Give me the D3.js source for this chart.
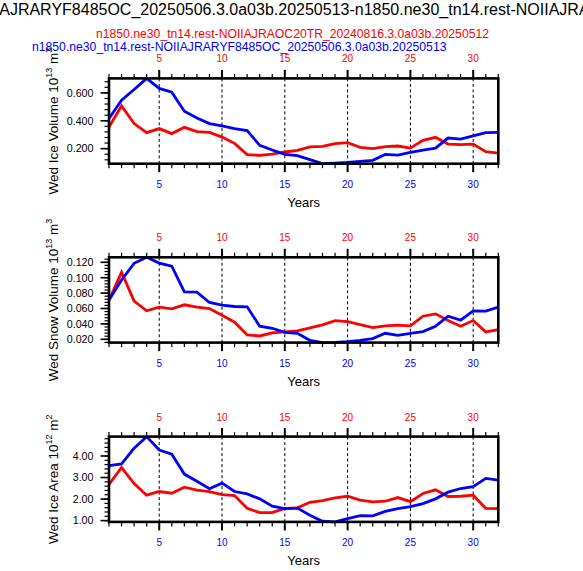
<!DOCTYPE html>
<html>
<head>
<meta charset="utf-8">
<script src="https://cdn.jsdelivr.net/npm/d3@7"></script>
<style>
  body { margin: 0; background: #fff; }
  text { font-family: "Liberation Sans", Arial, Helvetica, sans-serif; }
</style>
</head>
<body>
<div id="graph"></div>
<script>
"use strict";

const mainTitle = "n1850.ne30_tn14.rest-NOIIAJRARYF8485OC_20250506.3.0a03b.20250513-n1850.ne30_tn14.rest-NOIIAJRAOC20TR_20240816.3.0a03b.20250512";
const redCase = "n1850.ne30_tn14.rest-NOIIAJRAOC20TR_20240816.3.0a03b.20250512";
const blueCase = "n1850.ne30_tn14.rest-NOIIAJRARYF8485OC_20250506.3.0a03b.20250513";

const years = [1, 2, 3, 4, 5, 6, 7, 8, 9, 10, 11, 12, 13, 14, 15, 16,
  17, 18, 19, 20, 21, 22, 23, 24, 25, 26, 27, 28, 29, 30, 31, 32];
const xTicks = [5, 10, 15, 20, 25, 30];

// Wed ice volume (10^13 m^3)
const iceVolBlue = [0.416, 0.547, 0.624, 0.704, 0.632, 0.605, 0.468, 0.42, 0.38, 0.363, 0.344, 0.33, 0.224, 0.19, 0.159, 0.15,
  0.121, 0.092, 0.096, 0.101, 0.109, 0.116, 0.159, 0.154, 0.173, 0.19, 0.204, 0.276, 0.269, 0.291, 0.315, 0.317];
const iceVolRed = [0.355, 0.507, 0.38, 0.315, 0.344, 0.308, 0.353, 0.322, 0.317, 0.283, 0.238, 0.157, 0.152, 0.161, 0.176, 0.187,
  0.212, 0.217, 0.236, 0.243, 0.209, 0.2, 0.214, 0.219, 0.204, 0.26, 0.281, 0.233, 0.229, 0.233, 0.178, 0.168];
const iceVolTicks = [0.2, 0.4, 0.6];

// Wed snow volume (10^13 m^3)
const snowVolBlue = [0.071, 0.097, 0.1187, 0.1265, 0.119, 0.115, 0.0817, 0.0813, 0.0678, 0.0643, 0.0626, 0.0622, 0.037, 0.0343, 0.0291, 0.0278,
  0.0187, 0.0157, 0.016, 0.017, 0.0187, 0.0209, 0.0278, 0.0252, 0.0278, 0.03, 0.037, 0.05, 0.0448, 0.057, 0.0565, 0.0617];
const snowVolRed = [0.071, 0.107, 0.0696, 0.057, 0.0617, 0.0596, 0.0648, 0.0617, 0.06, 0.0513, 0.0422, 0.0257, 0.0243, 0.0283, 0.0296, 0.031,
  0.0348, 0.0387, 0.0443, 0.043, 0.0391, 0.0352, 0.0374, 0.0383, 0.0374, 0.05, 0.053, 0.0443, 0.037, 0.0443, 0.0296, 0.0326];
const snowVolTicks = [0.02, 0.04, 0.06, 0.08, 0.1, 0.12];

// Wed ice area (10^12 m^2)
const iceAreaBlue = [3.55, 3.63, 4.36, 4.9, 4.28, 4.08, 3.16, 2.83, 2.48, 2.74, 2.35, 2.24, 2.01, 1.67, 1.56, 1.58,
  1.25, 0.97, 0.94, 1.09, 1.23, 1.22, 1.43, 1.56, 1.65, 1.79, 2.01, 2.32, 2.49, 2.58, 2.96, 2.88];
const iceAreaRed = [2.68, 3.46, 2.72, 2.18, 2.35, 2.27, 2.55, 2.41, 2.35, 2.21, 2.16, 1.57, 1.37, 1.37, 1.57, 1.59,
  1.85, 1.93, 2.06, 2.13, 1.95, 1.87, 1.9, 2.07, 1.88, 2.26, 2.43, 2.12, 2.13, 2.18, 1.57, 1.56];
const iceAreaTicks = [1, 2, 3, 4];

const panels = [
  { label: "Wed Ice Volume 10", exp: "13", unit: "3", blue: iceVolBlue, red: iceVolRed, ticks: iceVolTicks, fmt: ".3f" },
  { label: "Wed Snow Volume 10", exp: "13", unit: "3", blue: snowVolBlue, red: snowVolRed, ticks: snowVolTicks, fmt: ".3f" },
  { label: "Wed Ice Area 10", exp: "12", unit: "2", blue: iceAreaBlue, red: iceAreaRed, ticks: iceAreaTicks, fmt: ".2f" },
];

// Layout
const w = 583;
const h = 571;
const left = 109;
const right = 498.3;
const panelH = 85.3;
const panelTops = [78.4, 257.3, 436.6];
const majorLen = 8.5;
const minorLen = 4.5;

const svg = d3.select("#graph").append("svg").attr("width", w).attr("height", h);

const x = d3.scaleLinear().domain([1, 32]).range([left, right]);

// Titles (main one is wider than the page, as in the original)
svg.append("text")
  .attr("x", 338)
  .attr("y", 15)
  .attr("text-anchor", "middle")
  .attr("font-size", 16)
  .text(mainTitle);

svg.append("text")
  .attr("x", 489)
  .attr("y", 38.3)
  .attr("text-anchor", "end")
  .attr("font-size", 12.2)
  .attr("fill", "red")
  .text(redCase);

svg.append("text")
  .attr("x", 32)
  .attr("y", 50.7)
  .attr("font-size", 12.2)
  .attr("fill", "blue")
  .text(blueCase);

panels.forEach((p, i) => {
  const top = panelTops[i];
  const bottom = top + panelH;
  const g = svg.append("g");

  const [lo, hi] = d3.extent(p.blue.concat(p.red));
  const y = d3.scaleLinear().domain([lo, hi]).range([bottom, top]);

  // dashed year grid
  g.selectAll("line.grid")
    .data(xTicks)
    .enter()
    .append("line")
    .attr("x1", (d) => x(d))
    .attr("x2", (d) => x(d))
    .attr("y1", top)
    .attr("y2", bottom)
    .attr("stroke", "#000")
    .attr("stroke-width", 1)
    .attr("stroke-dasharray", "3,2.5");

  // x ticks, top and bottom
  const minorX = years.filter((d) => d % 5 !== 0);
  [[bottom, 1], [top, -1]].forEach(([yy, dir]) => {
    g.selectAll(null)
      .data(minorX)
      .enter()
      .append("line")
      .attr("x1", (d) => x(d))
      .attr("x2", (d) => x(d))
      .attr("y1", yy)
      .attr("y2", yy + dir * minorLen)
      .attr("stroke", "#000")
      .attr("stroke-width", 1.2);
    g.selectAll(null)
      .data(xTicks)
      .enter()
      .append("line")
      .attr("x1", (d) => x(d))
      .attr("x2", (d) => x(d))
      .attr("y1", yy)
      .attr("y2", yy + dir * majorLen)
      .attr("stroke", "#000")
      .attr("stroke-width", 2);
  });

  g.selectAll(null)
    .data(xTicks)
    .enter()
    .append("text")
    .attr("x", (d) => x(d))
    .attr("y", bottom + 24)
    .attr("text-anchor", "middle")
    .attr("font-size", 10)
    .attr("fill", "blue")
    .text((d) => d);

  g.selectAll(null)
    .data(xTicks)
    .enter()
    .append("text")
    .attr("x", (d) => x(d))
    .attr("y", top - 16)
    .attr("text-anchor", "middle")
    .attr("font-size", 10)
    .attr("fill", "red")
    .text((d) => d);

  g.append("text")
    .attr("x", (left + right) / 2)
    .attr("y", bottom + 43.5)
    .attr("text-anchor", "middle")
    .attr("font-size", 13)
    .text("Years");

  // y ticks (4 minor per major interval)
  const step = p.ticks[1] - p.ticks[0];
  const minorStep = step / 5;
  const minorY = d3.range(Math.ceil(lo / minorStep), Math.floor(hi / minorStep) + 1)
    .map((k) => k * minorStep);

  g.selectAll(null)
    .data(minorY)
    .enter()
    .append("line")
    .attr("x1", left)
    .attr("x2", left - minorLen)
    .attr("y1", (d) => y(d))
    .attr("y2", (d) => y(d))
    .attr("stroke", "#000")
    .attr("stroke-width", 1.2);

  g.selectAll(null)
    .data(p.ticks)
    .enter()
    .append("line")
    .attr("x1", left)
    .attr("x2", left - majorLen)
    .attr("y1", (d) => y(d))
    .attr("y2", (d) => y(d))
    .attr("stroke", "#000")
    .attr("stroke-width", 1.6);

  g.selectAll(null)
    .data(p.ticks)
    .enter()
    .append("text")
    .attr("x", left - 15.5)
    .attr("y", (d) => y(d))
    .attr("dy", "0.36em")
    .attr("text-anchor", "end")
    .attr("font-size", 10.7)
    .text((d) => d3.format(p.fmt)(d));

  // y title with superscripts
  const cy = (top + bottom) / 2;
  const title = g.append("text")
    .attr("transform", `translate(58, ${cy}) rotate(-90)`)
    .attr("text-anchor", "middle")
    .attr("font-size", 13.5);
  title.append("tspan").text(p.label);
  title.append("tspan").attr("font-size", 9).attr("dy", -6).text(p.exp);
  title.append("tspan").attr("dy", 6).text(" m");
  title.append("tspan").attr("font-size", 9).attr("dy", -6).text(p.unit);

  // series
  const line = d3.line()
    .x((d, k) => x(years[k]))
    .y((d) => y(d));

  g.append("path")
    .datum(p.red)
    .attr("d", line)
    .attr("fill", "none")
    .attr("stroke", "red")
    .attr("stroke-width", 2.8);

  g.append("path")
    .datum(p.blue)
    .attr("d", line)
    .attr("fill", "none")
    .attr("stroke", "blue")
    .attr("stroke-width", 2.8);

  // frame on top
  g.append("rect")
    .attr("x", left)
    .attr("y", top)
    .attr("width", right - left)
    .attr("height", panelH)
    .attr("fill", "none")
    .attr("stroke", "#000")
    .attr("stroke-width", 2.6);
});
</script>
</body>
</html>
